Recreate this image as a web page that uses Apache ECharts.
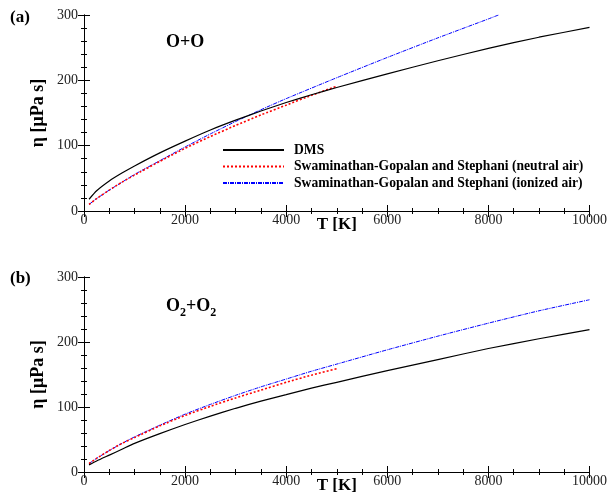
<!DOCTYPE html>
<html><head><meta charset="utf-8">
<script src="https://cdn.jsdelivr.net/npm/echarts@6/dist/echarts.min.js"></script>
<style>html,body{margin:0;padding:0;background:#fff}#c{width:610px;height:496px}</style>
</head><body><div id="c"></div>
<script>
// ---- Data ----
const xTicks = [0, 2000, 4000, 6000, 8000, 10000];
const yTicks = [0, 100, 200, 300];
const seriesNames = ['DMS', 'Swaminathan-Gopalan and Stephani (neutral air)', 'Swaminathan-Gopalan and Stephani (ionized air)'];

// Panel (a) O+O
const a_dms_T   = [100, 250, 500, 750, 1000, 1500, 2000, 2500, 3000, 3500, 4000, 4500, 5000, 6000, 7000, 8000, 9000, 10000];
const a_dms_eta = [18, 31, 46, 58, 69, 89, 107, 124, 139, 153, 166, 178, 189, 210, 230, 249, 266, 281];
const a_neu_T   = [100, 250, 500, 750, 1000, 1500, 2000, 2500, 3000, 3500, 4000, 4500, 5000];
const a_neu_eta = [10, 19, 32, 44, 55, 76, 96, 114, 131, 147, 162, 177, 191];
const a_ion_T   = [100, 250, 500, 750, 1000, 1500, 2000, 2500, 3000, 3500, 4000, 5000, 6000, 7000, 8000, 8200];
const a_ion_eta = [10, 19, 32, 44, 56, 77, 98, 118, 137, 155, 172, 204, 235, 265, 294, 300];

// Panel (b) O2+O2
const b_dms_T   = [100, 250, 500, 750, 1000, 1500, 2000, 2500, 3000, 3500, 4000, 4500, 5000, 6000, 7000, 8000, 9000, 10000];
const b_dms_eta = [11, 17, 26, 35, 44, 59, 73, 86, 98, 109, 119, 129, 138, 156, 173, 190, 205, 219];
const b_neu_T   = [100, 250, 500, 750, 1000, 1500, 2000, 2500, 3000, 3500, 4000, 4500, 5000];
const b_neu_eta = [13, 21, 33, 44, 53, 71, 87, 101, 114, 126, 138, 149, 159];
const b_ion_T   = [100, 250, 500, 750, 1000, 1500, 2000, 2500, 3000, 3500, 4000, 4500, 5000, 6000, 7000, 8000, 9000, 10000];
const b_ion_eta = [13, 21, 33, 44, 54, 72, 89, 104, 118, 131, 143, 155, 166, 188, 209, 229, 248, 265];

// ---- Build ----
const zip = (t, e) => t.map((v, i) => [v, e[i]]);
const FONT = "'Liberation Serif', 'Times New Roman', serif";
const styles = [
  { color: '#000000', width: 1.2, type: 'solid' },
  { color: '#ff0000', width: 1.6, type: [2, 2] },
  { color: '#0000ff', width: 1, type: [4, 1, 1, 1] }
];

function xAxes(gi) {
  const common = {
    type: 'value', gridIndex: gi, min: xTicks[0], max: xTicks[xTicks.length - 1], interval: 2000,
    axisLine: { show: true, lineStyle: { color: '#000', width: 1 } },
    axisTick: { show: true, inside: true, length: 6, lineStyle: { color: '#000' } },
    minorTick: { show: true, splitNumber: 4, length: 3, lineStyle: { color: '#000' } },
    splitLine: { show: false }
  };
  return [
    Object.assign({}, common, {
      position: 'bottom',
      axisLabel: { show: true, fontFamily: FONT, fontSize: 14, color: '#222', margin: 2, formatter: v => String(v) },
      name: 'T [K]', nameLocation: 'middle', nameGap: 5, nameMoveOverlap: false,
      nameTextStyle: { fontFamily: FONT, fontSize: 17, fontWeight: 'bold', color: '#000' }
    }),
    Object.assign({}, common, { position: 'top', axisLabel: { show: false } })
  ];
}
function yAxes(gi) {
  const common = {
    type: 'value', gridIndex: gi, min: yTicks[0], max: yTicks[yTicks.length - 1], interval: 100,
    axisLine: { show: true, lineStyle: { color: '#000', width: 1 } },
    axisTick: { show: true, inside: true, length: 6, lineStyle: { color: '#000' } },
    minorTick: { show: true, splitNumber: 5, length: 3, lineStyle: { color: '#000' } },
    splitLine: { show: false }
  };
  return [
    Object.assign({}, common, {
      position: 'left',
      axisLabel: { show: true, fontFamily: FONT, fontSize: 14, color: '#222', margin: 6, formatter: v => String(v) },
      name: 'η [μPa s]', nameLocation: 'middle', nameGap: 37, nameRotate: 90, nameMoveOverlap: false,
      nameTextStyle: { fontFamily: FONT, fontSize: 18, fontWeight: 'bold', color: '#000' }
    }),
    Object.assign({}, common, { position: 'right', axisLabel: { show: false } })
  ];
}

function lineSeries(name, data, idx, xi, yi) {
  return {
    name: name, type: 'line', data: data, xAxisIndex: xi, yAxisIndex: yi,
    symbol: 'none', showSymbol: false, smooth: 0.2, clip: true,
    lineStyle: styles[idx], itemStyle: { color: styles[idx].color },
    animation: false, z: 3 - idx
  };
}

const option = {
  animation: false,
  backgroundColor: '#fff',
  grid: [
    { left: 84, top: 15, width: 507, height: 196, containLabel: false },
    { left: 84, top: 277, width: 507, height: 195, containLabel: false }
  ],
  xAxis: [...xAxes(0), ...xAxes(1)],
  yAxis: [...yAxes(0), ...yAxes(1)],
  legend: {
    data: seriesNames,
    orient: 'vertical', left: 222, top: 143, padding: 0,
    itemWidth: 61, itemHeight: 14, itemGap: 2.5,
    itemStyle: { opacity: 0 },
    textStyle: { fontFamily: FONT, fontSize: 13.6, fontWeight: 'bold', color: '#000', padding: [0, 0, 0, 5] },
    selectedMode: false
  },
  series: [
    lineSeries(seriesNames[0], zip(a_dms_T, a_dms_eta), 0, 0, 0),
    lineSeries(seriesNames[1], zip(a_neu_T, a_neu_eta), 1, 0, 0),
    lineSeries(seriesNames[2], zip(a_ion_T, a_ion_eta), 2, 0, 0),
    lineSeries(seriesNames[0], zip(b_dms_T, b_dms_eta), 0, 2, 2),
    lineSeries(seriesNames[1], zip(b_neu_T, b_neu_eta), 1, 2, 2),
    lineSeries(seriesNames[2], zip(b_ion_T, b_ion_eta), 2, 2, 2)
  ],
  graphic: [
    { type: 'text', left: 10, top: 9, style: { text: '(a)', font: "bold 17px " + FONT, fill: '#000' } },
    { type: 'text', left: 10, top: 270, style: { text: '(b)', font: "bold 17px " + FONT, fill: '#000' } },
    { type: 'text', left: 166, top: 33, style: { text: 'O+O', font: "bold 18px " + FONT, fill: '#000' } },
    { type: 'text', left: 166, top: 297, style: {
        text: '{b|O}{s|2}{b|+O}{s|2}',
        rich: {
          b: { fontFamily: FONT, fontSize: 18, fontWeight: 'bold', fill: '#000', verticalAlign: 'bottom', lineHeight: 22 },
          s: { fontFamily: FONT, fontSize: 12, fontWeight: 'bold', fill: '#000', verticalAlign: 'bottom', lineHeight: 22, padding: [0, 0, -4, 0] }
        }
      } }
  ]
};
const chart = echarts.init(document.getElementById('c'), null, { renderer: 'canvas' });
chart.setOption(option);
</script>
</body></html>
